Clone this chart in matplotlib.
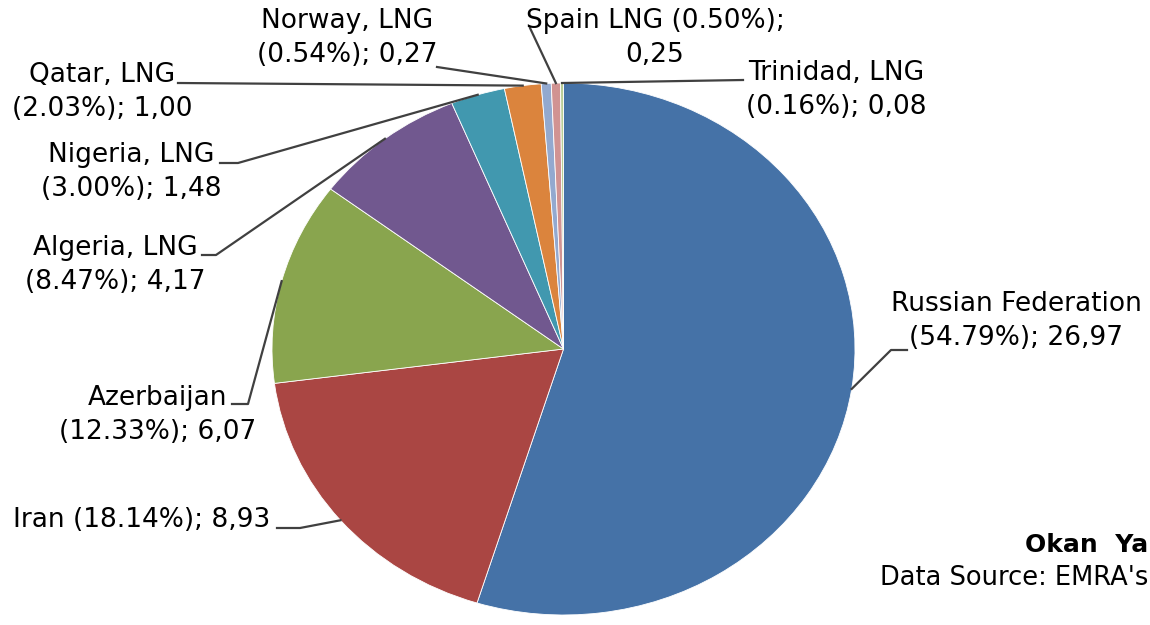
import numpy as np
import matplotlib
matplotlib.use("Agg")
import matplotlib.pyplot as plt
from matplotlib.lines import Line2D

# -----------------------
# DATA
# -----------------------
countries = ["Russian Federation", "Iran", "Azerbaijan", "Algeria, LNG",
             "Nigeria, LNG", "Qatar, LNG", "Norway, LNG", "Spain LNG",
             "Trinidad, LNG"]
values = [26.97, 8.93, 6.07, 4.17, 1.48, 1.00, 0.27, 0.25, 0.08]
shares = [54.79, 18.14, 12.33, 8.47, 3.00, 2.03, 0.54, 0.50, 0.16]
labels = [
    "Russian Federation\n(54.79%); 26,97",
    "Iran (18.14%); 8,93",
    "Azerbaijan\n(12.33%); 6,07",
    "Algeria, LNG\n(8.47%); 4,17",
    "Nigeria, LNG\n(3.00%); 1,48",
    "Qatar, LNG\n(2.03%); 1,00",
    "Norway, LNG\n(0.54%); 0,27",
    "Spain LNG (0.50%);\n0,25",
    "Trinidad, LNG\n(0.16%); 0,08",
]
colors = ["#4572A7", "#AA4643", "#89A54E", "#71588F", "#4198AF",
          "#DB843D", "#93A9CF", "#D19392", "#B9CD96"]

# label layout in pixels (from top-left): text centre, then leader points near text
W, H = 1150, 625
label_pos = [(1016, 321), (142, 520), (158, 415), (115, 265), (131, 172),
             (102, 92), (347, 38), (655, 38), (836, 90)]
leader_pts = [
    [(891, 350), (907, 350)],
    [(300, 528), (277, 528)],
    [(248, 404), (232, 404)],
    [(216, 255), (202, 255)],
    [(238, 163), (220, 163)],
    [(178, 83)],
    [(437, 67)],
    [(530, 28)],
    [(743, 80)],
]

plt.rcParams['font.family'] = ['DejaVu Sans']

fig = plt.figure(figsize=(W / 100, H / 100), dpi=100)
# pie is an ellipse in the reference: left 272, right 855, top 83, bottom 615
ax = fig.add_axes([272 / W, 1 - 615 / H, 583 / W, 532 / H])
wedges, _ = ax.pie(values, colors=colors, startangle=90, counterclock=False,
                   wedgeprops=dict(edgecolor='white', linewidth=0.6))
ax.set_aspect('auto')
ax.set_xlim(-1, 1)
ax.set_ylim(-1, 1)
ax.axis('off')


def px(x, y):
    return x / W, 1 - y / H


inv = fig.transFigure.inverted()
for w, lab, (tx, ty), pts in zip(wedges, labels, label_pos, leader_pts):
    mid = np.deg2rad((w.theta1 + w.theta2) / 2)
    anchor = inv.transform(ax.transData.transform((np.cos(mid), np.sin(mid))))
    xs = [anchor[0]] + [px(*p)[0] for p in pts]
    ys = [anchor[1]] + [px(*p)[1] for p in pts]
    fig.add_artist(Line2D(xs, ys, color='#404040', linewidth=1.6,
                          transform=fig.transFigure))
    fig.text(*px(tx, ty), lab, ha='center', va='center', fontsize=19,
             linespacing=1.4, color='black')

fig.text(*px(1148, 545), "Okan  Ya", ha='right', va='center', fontsize=18,
         fontweight='bold', color='black')
fig.text(*px(1148, 578), "Data Source: EMRA's", ha='right', va='center',
         fontsize=18.5, color='black')

fig.savefig("out.png", dpi=100, facecolor='white')
plt.close(fig)
